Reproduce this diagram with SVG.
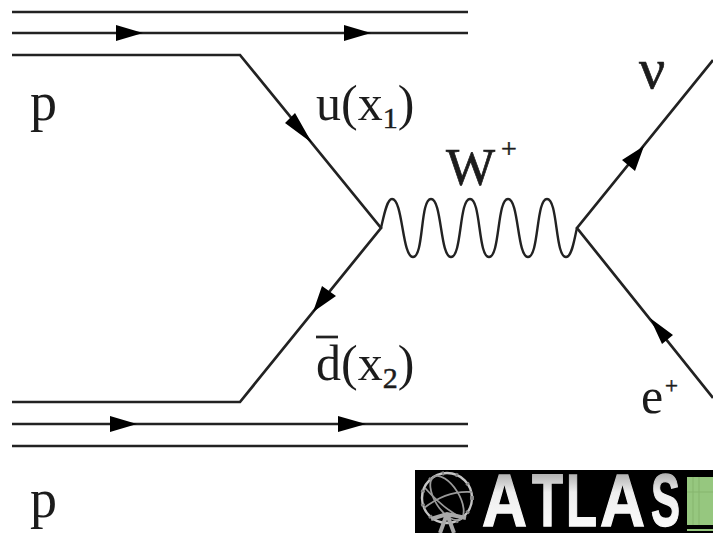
<svg xmlns="http://www.w3.org/2000/svg" width="713" height="533" viewBox="0 0 713 533">
<style>
.l{fill:none;stroke:#222;stroke-width:2.7}
.w{fill:none;stroke:#222;stroke-width:2.4}
.h{fill:#000;stroke:none}
.t{font-family:"Liberation Serif",serif;fill:#1c1c1c}
.b{stroke:#1c1c1c;stroke-width:.7}
.s{stroke:#1c1c1c;stroke-width:.5}
.g{fill:none;stroke:#9a9a9a;stroke-width:1.8}
.a{font-family:"Liberation Sans",sans-serif;font-weight:700;font-size:74px;fill:url(#gr);stroke:url(#gr);stroke-width:1.4}
</style>
<defs>
<linearGradient id="gr" x1="0" y1="0" x2="0" y2="1"><stop offset="0" stop-color="#808080"/><stop offset=".4" stop-color="#eeeeee"/><stop offset="1" stop-color="#fff"/></linearGradient>
</defs>
<rect width="713" height="533" fill="#fff"/>
<g id="connectors">
<path class="l" d="M12 12H468M12 33H468M12 55H240L381 228L240 402H12M12 424H468M12 446H468"/>
<path class="l" d="M713 60L577 228L713 398"/>
<path class="w" d="M381 228C384 215 387 199 392 199C403 199 402 257 413 257C424 257 420 199 431 199C442 199 440 257 451 257C462 257 459 199 470 199C481 199 478 257 489 257C500 257 497 199 508 199C519 199 517 257 528 257C539 257 536 199 547 199C558 199 555 257 566 257C572 257 574 240 577 228"/>
<path class="h" d="M116 25L143 33L116 41ZM344 25L371 33L344 41ZM110 416L137 424L110 432ZM338 416L366 424L338 432Z"/>
<path class="h" d="M312 143L285 123L295 113ZM313 312L322 286L336 296ZM644 146L622 160L635 171ZM650 318L673 335L662 344Z"/>
</g>
<g id="label-p-top"><text class="t" x="30" y="120" font-size="54">p</text></g>
<g id="label-p-bottom"><text class="t" x="30" y="517" font-size="54">p</text></g>
<g id="label-u"><text class="t" x="316" y="120" font-size="50">u(x<tspan class="s" font-size="30" dy="8">1</tspan><tspan dy="-8">)</tspan></text></g>
<g id="label-d"><path class="l" d="M316 337H338"/><text class="t" x="316" y="380" font-size="50">d(x<tspan class="s" font-size="30" dy="8">2</tspan><tspan dy="-8">)</tspan></text></g>
<g id="label-w"><text class="t b" x="446" y="185" font-size="52">W</text><text class="t s" x="501" y="158" font-size="28">+</text></g>
<g id="label-nu"><text class="t b" x="639" y="88" font-size="58">ν</text></g>
<g id="label-e"><text class="t" x="641" y="413" font-size="50">e</text><text class="t s" x="665" y="393" font-size="23">+</text></g>
<g id="atlas-logo">
<rect x="415" y="470" width="298" height="63" fill="#000"/>
<g class="g">
<circle cx="447" cy="498" r="25" stroke="#c4c4c4" stroke-width="2.4"/>
<circle cx="447" cy="498" r="25" stroke="#888" stroke-width="4" stroke-dasharray="2 12"/>
<ellipse cx="447" cy="498" rx="12" ry="25" transform="rotate(-32 447 498)"/>
<path d="M424 508Q447 490 472 492M425 488Q445 510 462 518"/>
<path d="M431 519L447 514L466 518M447 514L454 533M440 533L447 514" stroke-width="4" stroke="#aaa"/>
</g>
<text class="a" x="482" y="526" textLength="45" lengthAdjust="spacingAndGlyphs">A</text>
<text class="a" x="532" y="526" textLength="31" lengthAdjust="spacingAndGlyphs">T</text>
<text class="a" x="566" y="526" textLength="31" lengthAdjust="spacingAndGlyphs">L</text>
<text class="a" x="600" y="526" textLength="45" lengthAdjust="spacingAndGlyphs">A</text>
<text class="a" x="651" y="526" textLength="29" lengthAdjust="spacingAndGlyphs">S</text>
<rect x="687" y="477" width="26" height="48" fill="#96c77f"/>
<path d="M693 477V525M699 477V525M687 492H713" stroke="#86b56f" stroke-width="1" fill="none"/>
<rect x="687" y="529" width="26" height="2" fill="#96c77f"/>
</g>
</svg>
